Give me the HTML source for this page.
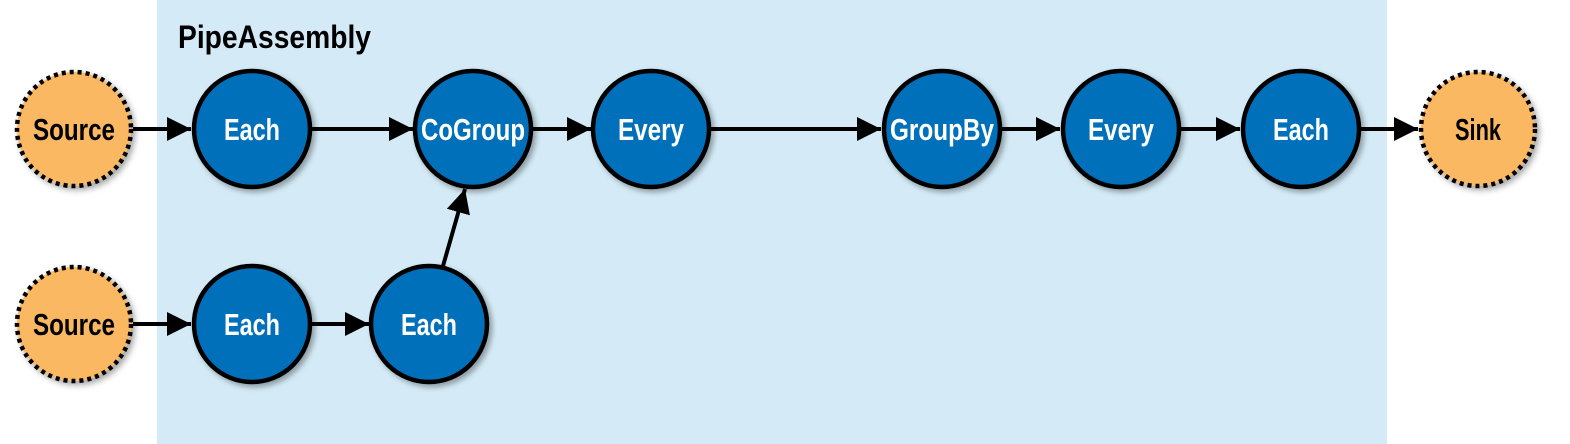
<!DOCTYPE html>
<html><head><style>
html,body{margin:0;padding:0;background:#fff;}
svg{display:block;}
text{font-family:"Liberation Sans",sans-serif;font-weight:bold;}
</style></head><body>
<svg width="1570" height="444" viewBox="0 0 1570 444" xmlns="http://www.w3.org/2000/svg">
<defs>
<marker id="a" viewBox="0 0 10 10" refX="10" refY="5" markerWidth="24" markerHeight="24" markerUnits="userSpaceOnUse" orient="auto">
<path d="M0,0 L10,5 L0,10 z" fill="#000"/></marker>
<filter id="s" x="-20%" y="-20%" width="150%" height="150%"><feDropShadow dx="3" dy="3" stdDeviation="3" flood-color="#000" flood-opacity="0.35"/></filter>
</defs>
<rect x="157" y="0" width="1230" height="444" fill="#d4ebf7"/>
<text x="178" y="48" font-size="32" textLength="193" lengthAdjust="spacingAndGlyphs" fill="#000">PipeAssembly</text>
<g stroke="#000" stroke-width="4" fill="none">
<line x1="133" y1="129" x2="191" y2="129" marker-end="url(#a)"/>
<line x1="312" y1="129" x2="413" y2="129" marker-end="url(#a)"/>
<line x1="533" y1="129" x2="591" y2="129" marker-end="url(#a)"/>
<line x1="711" y1="129" x2="881" y2="129" marker-end="url(#a)"/>
<line x1="1002" y1="129" x2="1060" y2="129" marker-end="url(#a)"/>
<line x1="1181" y1="129" x2="1240" y2="129" marker-end="url(#a)"/>
<line x1="1361" y1="129" x2="1418" y2="129" marker-end="url(#a)"/>
<line x1="133" y1="324" x2="191" y2="324" marker-end="url(#a)"/>
<line x1="312" y1="324" x2="369" y2="324" marker-end="url(#a)"/>
<line x1="443" y1="266" x2="465" y2="189" marker-end="url(#a)"/>
</g>
<g filter="url(#s)">
<circle cx="74" cy="129" r="57" fill="#fbb862" stroke="#000" stroke-width="4.5" stroke-dasharray="4 4"/>
<circle cx="74" cy="324" r="57" fill="#fbb862" stroke="#000" stroke-width="4.5" stroke-dasharray="4 4"/>
<circle cx="1478" cy="129" r="57" fill="#fbb862" stroke="#000" stroke-width="4.5" stroke-dasharray="4 4"/>
<g fill="#0070bb" stroke="#000" stroke-width="4.5">
<circle cx="252" cy="129" r="58"/>
<circle cx="473" cy="129" r="58"/>
<circle cx="651" cy="129" r="58"/>
<circle cx="942" cy="129" r="58"/>
<circle cx="1121" cy="129" r="58"/>
<circle cx="1301" cy="129" r="58"/>
<circle cx="252" cy="324" r="58"/>
<circle cx="429" cy="324" r="58"/>
</g>
</g>
<g font-size="31" text-anchor="middle">
<text x="74" y="140" textLength="82" lengthAdjust="spacingAndGlyphs" fill="#000">Source</text>
<text x="74" y="335" textLength="82" lengthAdjust="spacingAndGlyphs" fill="#000">Source</text>
<text x="1478" y="140" textLength="46" lengthAdjust="spacingAndGlyphs" fill="#000">Sink</text>
<g fill="#fff">
<text x="252" y="140" textLength="56" lengthAdjust="spacingAndGlyphs">Each</text>
<text x="473" y="140" textLength="104" lengthAdjust="spacingAndGlyphs">CoGroup</text>
<text x="651" y="140" textLength="66" lengthAdjust="spacingAndGlyphs">Every</text>
<text x="942" y="140" textLength="104" lengthAdjust="spacingAndGlyphs">GroupBy</text>
<text x="1121" y="140" textLength="66" lengthAdjust="spacingAndGlyphs">Every</text>
<text x="1301" y="140" textLength="56" lengthAdjust="spacingAndGlyphs">Each</text>
<text x="252" y="335" textLength="56" lengthAdjust="spacingAndGlyphs">Each</text>
<text x="429" y="335" textLength="56" lengthAdjust="spacingAndGlyphs">Each</text>
</g>
</g>
</svg>
</body></html>
